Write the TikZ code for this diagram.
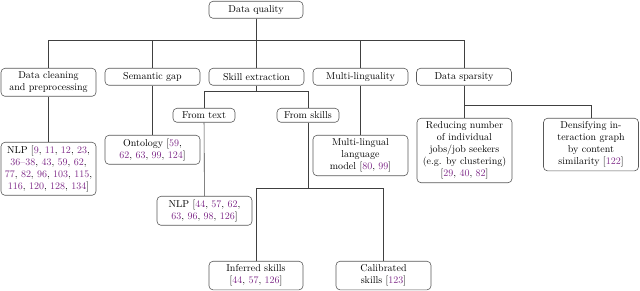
\documentclass[tikz,border=0pt]{standalone}
\usepackage{tikz}
\definecolor{refpurple}{RGB}{125,40,135}
\newcommand{\rf}[1]{\textcolor{refpurple}{#1}}

\begin{document}
\begin{tikzpicture}[x=1pt, y=-1pt, line width=0.6pt,
  topic/.style={draw=black!65, rounded corners=4pt, align=center, anchor=north,
    minimum width=95pt, minimum height=17pt, inner xsep=3pt, inner ysep=3.5pt,
    font=\fontsize{10}{12}\selectfont},
  sub/.style={topic, minimum width=62pt, minimum height=14pt, inner ysep=2pt},
  link/.style={draw=black!75}]
  \useasboundingbox (0,0) rectangle (640,291);
  % raiz
  \node[topic, minimum width=94pt] (dq) at (256,1) {Data quality};
  % primer nivel
  \node[topic] (clean)  at (48.5,68)  {Data cleaning\\and preprocessing};
  \node[topic] (gap)    at (152.5,68) {Semantic gap};
  \node[topic] (skill)  at (256.5,68) {Skill extraction};
  \node[topic] (multi)  at (360.5,68) {Multi-linguality};
  \node[topic] (sparse) at (464,68)   {Data sparsity};
  % extraccion de habilidades
  \node[sub] (ftext)   at (204,108) {From text};
  \node[sub] (fskills) at (308,108) {From skills};
  % hojas
  \node[topic] (nlpa) at (48.5,142) {NLP [\rf{9}, \rf{11}, \rf{12}, \rf{23},\\
    \rf{36--38}, \rf{43}, \rf{59}, \rf{62},\\
    \rf{77}, \rf{82}, \rf{96}, \rf{103}, \rf{115},\\
    \rf{116}, \rf{120}, \rf{128}, \rf{134}]};
  \node[topic] (onto) at (152.5,135) {Ontology [\rf{59},\\
    \rf{62}, \rf{63}, \rf{99}, \rf{124}]};
  \node[topic] (nlpb) at (204.5,196) {NLP [\rf{44}, \rf{57}, \rf{62},\\
    \rf{63}, \rf{96}, \rf{98}, \rf{126}]};
  \node[topic] (mlm) at (360.5,135) {Multi-lingual\\language\\model [\rf{80}, \rf{99}]};
  \node[topic] (reduce) at (464.5,118) {Reducing number\\of individual\\jobs/job seekers\\
    (e.g. by clustering)\\{}[\rf{29}, \rf{40}, \rf{82}]};
  \node[topic] (dense) at (591,118) {Densifying in-\\teraction graph\\by content\\
    similarity [\rf{122}]};
  \node[topic, minimum width=94pt] (infer) at (256,261) {Inferred skills\\{}[\rf{44}, \rf{57}, \rf{126}]};
  \node[topic] (calib) at (383.5,261) {Calibrated\\skills [\rf{123}]};
  % conectores
  \foreach \c in {clean,gap,skill,multi,sparse}
    \draw[link] (dq.south) -- ++(0,22) -| (\c.north);
  \foreach \c in {ftext,fskills}
    \draw[link] (skill.south) -- ++(0,6) -| (\c.north);
  \foreach \c in {infer,calib}
    \draw[link] (fskills.south) -- ++(0,66) -| (\c.north);
  \foreach \c in {reduce,dense}
    \draw[link] (sparse.south) -- ++(0,20) -| (\c.north);
  \draw[link] (clean) -- (nlpa);
  \draw[link] (gap) -- (onto);
  \draw[link] (ftext) -- (nlpb);
  \draw[link] (multi) -- (mlm);
\end{tikzpicture}
\end{document}
